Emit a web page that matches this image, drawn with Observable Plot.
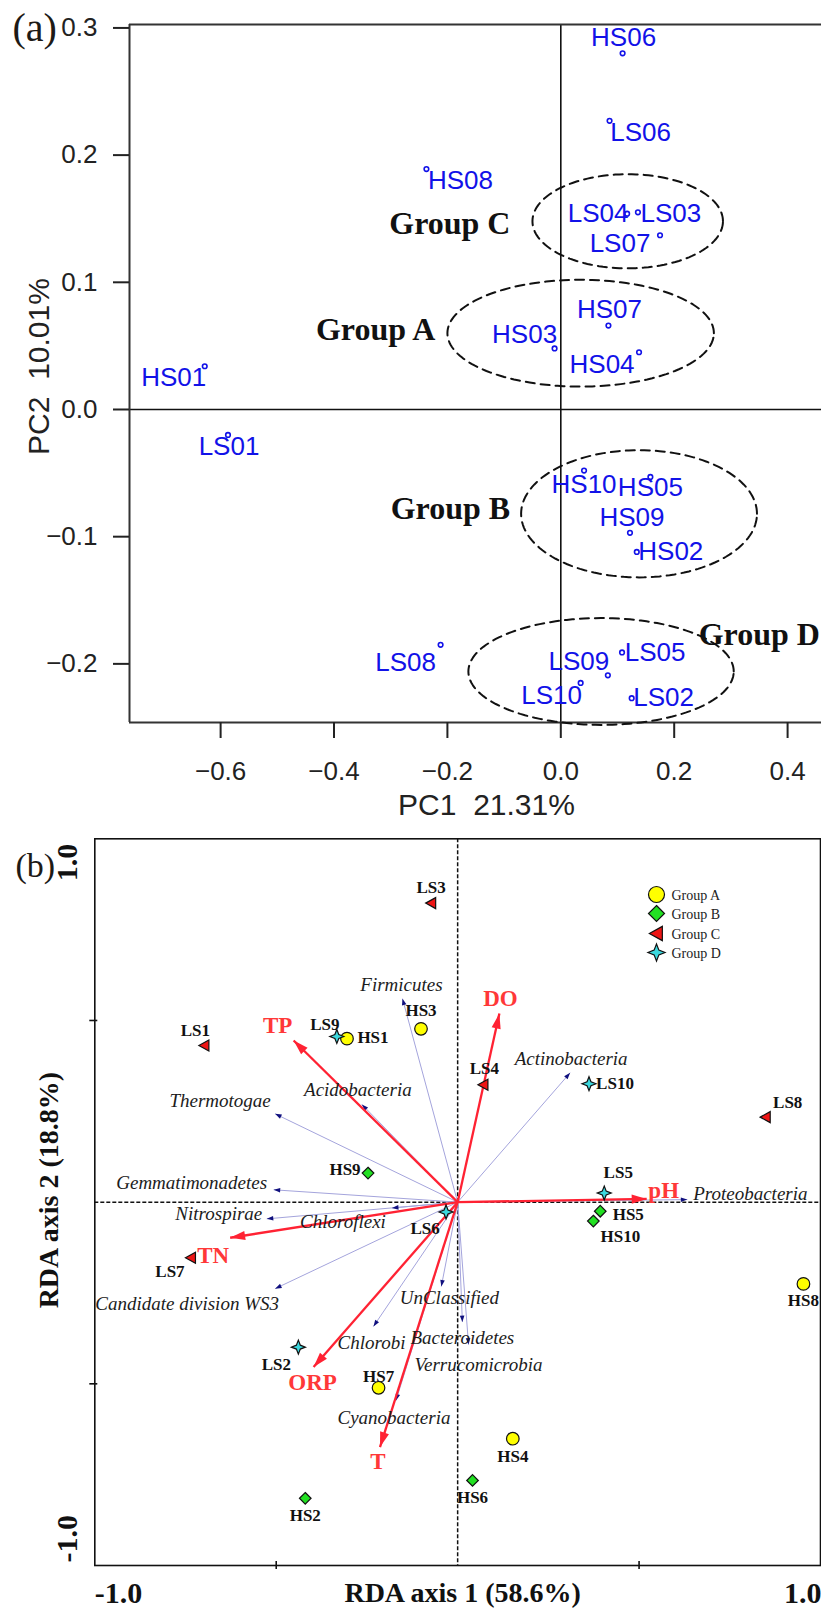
<!DOCTYPE html>
<html><head><meta charset="utf-8">
<script src="https://cdn.jsdelivr.net/npm/d3@7"></script>
<script src="https://cdn.jsdelivr.net/npm/@observablehq/plot@0.6"></script>
<style>
html,body{margin:0;padding:0;background:#fff;}
#wrap{position:relative;width:821px;height:1611px;overflow:hidden;background:#fff;}
#wrap svg{position:absolute;left:0;overflow:visible;}
</style></head><body><div id="wrap"></div>
<script>
// ---------- Panel (a) data : PCA ----------
const samplesA = ["HS01","HS06","LS06","HS08","LS04","LS03","LS07","HS07","HS03","HS04","LS01","LS08","HS10","HS05","HS09","HS02","LS05","LS09","LS10","LS02"];
const pc1 = [-0.628,0.109,0.086,-0.237,0.117,0.136,0.175,0.084,-0.011,0.138,-0.587,-0.212,0.041,0.158,0.122,0.134,0.108,0.083,0.035,0.125];
const pc2 = [0.034,0.280,0.227,0.189,0.154,0.155,0.137,0.066,0.048,0.045,-0.020,-0.185,-0.048,-0.053,-0.097,-0.112,-0.191,-0.209,-0.215,-0.227];
const groupNames = ["Group A","Group B","Group C","Group D"];
const ellCx = [0.035, 0.138, 0.118, 0.071];
const ellCy = [0.060, -0.082, 0.148, -0.206];
const ellRx = [0.235, 0.208, 0.168, 0.234];
const ellRy = [0.042, 0.050, 0.037, 0.042];
const xTicksA = [-0.6,-0.4,-0.2,0,0.2,0.4];
const yTicksA = [-0.2,-0.1,0,0.1,0.2,0.3];
const xTitleA = "PC1\u00a0\u00a021.31%";
const yTitleA = "PC2\u00a0\u00a010.01%";

// ---------- Panel (b) data : RDA ----------
const samplesB = ["HS1","HS2","HS3","HS4","HS5","HS6","HS7","HS8","HS9","HS10","LS1","LS2","LS3","LS4","LS5","LS6","LS7","LS8","LS9","LS10"];
const groupB   = ["Group A","Group B","Group A","Group A","Group B","Group B","Group A","Group A","Group B","Group B","Group C","Group D","Group C","Group C","Group D","Group D","Group C","Group C","Group D","Group D"];
const rda1 = [-0.305,-0.420,-0.101,0.152,0.393,0.041,-0.218,0.953,-0.247,0.374,-0.698,-0.439,-0.073,0.071,0.404,-0.032,-0.735,0.849,-0.333,0.362];
const rda2 = [0.450,-0.815,0.477,-0.651,-0.025,-0.766,-0.511,-0.225,0.080,-0.052,0.431,-0.399,0.823,0.323,0.025,-0.027,-0.153,0.234,0.456,0.326];
const envNames = ["DO","TP","pH","TN","ORP","T"];
const envX = [0.115,-0.452,0.521,-0.627,-0.397,-0.214];
const envY = [0.519,0.445,0.009,-0.098,-0.454,-0.674];
const spNames = ["Firmicutes","Actinobacteria","Acidobacteria","Thermotogae","Gemmatimonadetes","Nitrospirae","Chloroflexi","Candidate division WS3","UnClassified","Chlorobi","Bacteroidetes","Verrucomicrobia","Cyanobacteria","Proteobacteria"];
const spX = [-0.152,0.310,-0.264,-0.503,-0.507,-0.526,-0.181,-0.503,-0.045,-0.232,0.013,0.030,-0.170,0.633];
const spY = [0.560,0.356,0.269,0.243,0.034,-0.046,-0.016,-0.238,-0.232,-0.342,-0.330,-0.392,-0.546,0.007];
const xTitleB = "RDA axis 1 (58.6%)";
const yTitleB = "RDA axis 2 (18.8%)";

// ---------- styles ----------
const sans = "'Liberation Sans', Arial, sans-serif";
const serif = "'Liberation Serif', 'Times New Roman', serif";
const blue = "#1212e8";
const red = "#ff2233";
const wrap = document.getElementById("wrap");

// ---------- Panel (a) ----------
const xA = [-0.7607, 0.4598];
const yA = [-0.2461, 0.3027];
const rowsA = samplesA.map((s,i)=>({name:s, x:pc1[i], y:pc2[i]}));
const offA = {HS01:[-31,11],HS06:[1,-16],LS06:[31,12],HS08:[34,12],LS04:[-29,0],LS03:[33,1],LS07:[-40,8],HS07:[1,-16],HS03:[-30,-14],HS04:[-37,12],LS01:[1,12],LS08:[-35,18],HS10:[0,14],HS05:[0,11],HS09:[2,-15],HS02:[34,0],LS05:[33,0],LS09:[-29,-14],LS10:[-29,13],LS02:[32,-1]};
const ellPts = [];
groupNames.forEach((g,i)=>{
  for (let k=0;k<=144;k++){ const t=2*Math.PI*k/144;
    ellPts.push({g, x: ellCx[i]+ellRx[i]*Math.cos(t), y: ellCy[i]+ellRy[i]*Math.sin(t)}); }
});
const grpLab = {"Group A":[-12,-3,"L"],"Group B":[-11,-5,"L"],"Group C":[-22,2,"L"],"Group D":[-35,-37,"R"]};

const chartA = Plot.plot({
  width: 821, height: 820, marginLeft: 129, marginRight: 0, marginTop: 24, marginBottom: 98,
  x: {domain: xA}, y: {domain: yA},
  style: {fontFamily: sans, fontSize: "26px", background: "transparent", color: "#222"},
  marks: [
    Plot.ruleX([0], {stroke:"#111", strokeWidth:1.6}),
    Plot.ruleY([0], {stroke:"#111", strokeWidth:1.6}),
    Plot.ruleX([xA[0]], {stroke:"#333", strokeWidth:2}),
    Plot.ruleY(yA, {stroke:"#333", strokeWidth:2}),
    Plot.axisY({ticks: yTicksA, tickFormat: d3.format(".1f"), tickSize: 16, tickPadding: 16, fontSize: 26, label: null, color: "#222", strokeWidth: 2}),
    Plot.axisX({ticks: xTicksA, tickFormat: d3.format(".1f"), tickSize: 16, tickPadding: 23, fontSize: 26, label: null, color: "#222", strokeWidth: 2}),
    Plot.line(ellPts, {x:"x", y:"y", z:"g", stroke:"#111", strokeWidth:2, strokeDasharray:"9,6"}),
    ...groupNames.map((g,i)=>{ const o = grpLab[g];
      return Plot.text([g], {x: () => o[2]==="L" ? ellCx[i]-ellRx[i] : ellCx[i]+ellRx[i], y: () => ellCy[i],
        textAnchor: o[2]==="L" ? "end" : "start", dx:o[0], dy:o[1], fontFamily: serif, fontWeight:"bold", fontSize:32, fill:"#111"}); }),
    Plot.dot(rowsA, {x:"x", y:"y", r:2.3, stroke:blue, strokeWidth:1.6, fill:"none"}),
    ...rowsA.map(d => Plot.text([d], {x:"x", y:"y", text:"name", dx:offA[d.name][0], dy:offA[d.name][1], fill:blue, fontSize:26, fontFamily:sans})),
    Plot.text([xTitleA], {frameAnchor:"bottom", textAnchor:"middle", lineAnchor:"middle", dx: 11, dy: 83, fontSize: 30, fontFamily: sans, fill:"#222"}),
    Plot.text([yTitleA], {frameAnchor:"left", textAnchor:"middle", lineAnchor:"middle", rotate:-90, dx: -90, dy: -7, fontSize: 30, fontFamily: sans, fill:"#222"}),
    Plot.text(["(a)"], {frameAnchor:"top-left", textAnchor:"start", lineAnchor:"middle", dx:-117, dy:4, fontSize:40, fontFamily: serif, fill:"#1d1a16"})
  ]
});
chartA.style.top = "0px";
wrap.appendChild(chartA);

// ---------- Panel (b) ----------
const head = (len, hw) => ({draw(ctx){ ctx.moveTo(0,0); ctx.lineTo(-hw,len); ctx.lineTo(hw,len); ctx.closePath(); }});
const circ = (r) => ({draw(ctx){ ctx.moveTo(r,0); ctx.arc(0,0,r,0,2*Math.PI); }});
const diam = (h) => ({draw(ctx){ ctx.moveTo(0,-h); ctx.lineTo(h,0); ctx.lineTo(0,h); ctx.lineTo(-h,0); ctx.closePath(); }});
const ltri = (s) => ({draw(ctx){ ctx.moveTo(-5.5*s,0); ctx.lineTo(4.5*s,-5.5*s); ctx.lineTo(4.5*s,5.5*s); ctx.closePath(); }});
const star = (s) => ({draw(ctx){ const q=s*0.28; ctx.moveTo(0,-s); ctx.lineTo(q,-q); ctx.lineTo(s,0); ctx.lineTo(q,q); ctx.lineTo(0,s); ctx.lineTo(-q,q); ctx.lineTo(-s,0); ctx.lineTo(-q,-q); ctx.closePath(); }});
const gStyle = {
  "Group A": {sym: circ(6.3), legSym: circ(8), fill: "#ffff00"},
  "Group B": {sym: diam(5.8), legSym: diam(8), fill: "#22e022"},
  "Group C": {sym: ltri(1), legSym: ltri(1.3), fill: "#ee1515"},
  "Group D": {sym: star(7), legSym: star(8.5), fill: "#3cd8de"}
};
const rowsB = samplesB.map((s,i)=>({name:s, g:groupB[i], x:rda1[i], y:rda2[i]}));
const envRows = envNames.map((n,i)=>({name:n, x:envX[i], y:envY[i]}));
const spRows = spNames.map((n,i)=>({name:n, x:spX[i], y:spY[i]}));
const ang = d => Math.atan2(d.x, d.y) * 180 / Math.PI;
const offB = {LS3:[0,-16],HS3:[0,-18],LS4:[1,-16],LS10:[26,0],LS8:[22,-15],LS5:[14,-21],HS5:[28,3],HS10:[27,16],LS1:[-9,-15],LS9:[-12,-12],HS1:[26,-1],HS9:[-23,-4],LS7:[-21,14],LS6:[-21,17],LS2:[-22,17],HS7:[0,-11],HS2:[0,17],HS4:[0,18],HS6:[0,17],HS8:[0,17]};
const offEnv = {DO:[1,-15],TP:[-16,-15],pH:[17,-8],TN:[-17,18],ORP:[-1,16],T:[-2,15]};
const offSp = {"Firmicutes":[-1,-14],"Actinobacteria":[1,-14],"Acidobacteria":[-4,-15],"Thermotogae":[-55,-13],"Gemmatimonadetes":[-82,-7],"Nitrospirae":[-48,-5],"Chloroflexi":[-49,14],"Candidate division WS3":[-88,15],"UnClassified":[8,11],"Chlorobi":[-2,16],"Bacteroidetes":[0,16],"Verrucomicrobia":[10,20],"Cyanobacteria":[-2,17],"Proteobacteria":[63,-6]};
const legDy = [55.7, 74.7, 94.7, 113.7];

const chartB = Plot.plot({
  width: 821, height: 791, marginLeft: 94.3, marginRight: 1, marginTop: 18.3, marginBottom: 46,
  x: {domain: [-1, 1]}, y: {domain: [-1, 1]},
  style: {fontFamily: serif, fontSize: "17px", background: "transparent", color: "#111"},
  marks: [
    Plot.ruleX([0], {stroke:"#111", strokeWidth:1.5, strokeDasharray:"4,2"}),
    Plot.ruleY([0], {stroke:"#111", strokeWidth:1.5, strokeDasharray:"4,2"}),
    Plot.frame({stroke:"#111", strokeWidth:1.6}),
    Plot.axisX({ticks:[-0.5,0.5], tickSize:8, dy:-4, tickFormat: () => "", label:null, strokeWidth:1.6, color:"#111"}),
    Plot.axisY({ticks:[-0.5,0.5], tickSize:8, dx:3, tickFormat: () => "", label:null, strokeWidth:1.6, color:"#111"}),
    Plot.link(spRows, {x1: () => 0, y1: () => 0, x2:"x", y2:"y", stroke:"#a4a4dc", strokeWidth:1}),
    Plot.dot(spRows, {x:"x", y:"y", symbol: head(6.5, 2.3), rotate: ang, fill:"#10107e", stroke:"none"}),
    Plot.link(envRows, {x1: () => 0, y1: () => 0, x2:"x", y2:"y", stroke:red, strokeWidth:2.3}),
    Plot.dot(envRows, {x:"x", y:"y", symbol: head(15, 4.6), rotate: ang, fill:red, stroke:"none"}),
    ...groupNames.map(g => Plot.dot(rowsB.filter(d => d.g === g), {x:"x", y:"y", symbol: gStyle[g].sym, fill: gStyle[g].fill, stroke:"#111", strokeWidth:1.2})),
    ...rowsB.map(d => Plot.text([d], {x:"x", y:"y", text:"name", dx:offB[d.name][0], dy:offB[d.name][1], fontWeight:"bold", fontSize:17, fontFamily:serif, fill:"#111"})),
    ...envRows.map(d => Plot.text([d], {x:"x", y:"y", text:"name", dx:offEnv[d.name][0], dy:offEnv[d.name][1], fontWeight:"bold", fontSize:23, fontFamily:serif, fill:"#ff3838"})),
    ...spRows.map(d => Plot.text([d], {x:"x", y:"y", text:"name", dx:offSp[d.name][0], dy:offSp[d.name][1], fontStyle:"italic", fontSize:19, fontFamily:serif, fill:"#1c1c1c"})),
    ...groupNames.map((g,i) => Plot.dot([g], {frameAnchor:"top-left", dx:561.7, dy:legDy[i], symbol: gStyle[g].legSym, fill: gStyle[g].fill, stroke:"#111", strokeWidth:1.2})),
    ...groupNames.map((g,i) => Plot.text([g], {frameAnchor:"top-left", textAnchor:"start", lineAnchor:"middle", dx:576.7, dy:legDy[i]+1, fontSize:14, fontFamily:serif, fill:"#222"})),
    Plot.text(["-1.0"], {frameAnchor:"bottom-left", textAnchor:"start", lineAnchor:"middle", dx:0, dy:28, fontWeight:"bold", fontSize:30, fontFamily:serif, fill:"#111"}),
    Plot.text(["1.0"], {frameAnchor:"bottom-right", textAnchor:"end", lineAnchor:"middle", dx:1, dy:28, fontWeight:"bold", fontSize:30, fontFamily:serif, fill:"#111"}),
    Plot.text([xTitleB], {frameAnchor:"bottom", textAnchor:"middle", lineAnchor:"middle", dx:5, dy:28, fontWeight:"bold", fontSize:28, fontFamily:serif, fill:"#111"}),
    Plot.text(["1.0"], {frameAnchor:"top-left", rotate:-90, textAnchor:"end", lineAnchor:"middle", dx:-27, dy:5, fontWeight:"bold", fontSize:30, fontFamily:serif, fill:"#111"}),
    Plot.text(["-1.0"], {frameAnchor:"bottom-left", rotate:-90, textAnchor:"start", lineAnchor:"middle", dx:-27, dy:-3, fontWeight:"bold", fontSize:30, fontFamily:serif, fill:"#111"}),
    Plot.text([yTitleB], {frameAnchor:"left", rotate:-90, textAnchor:"middle", lineAnchor:"middle", dx:-46, dy:-12, fontWeight:"bold", fontSize:28, fontFamily:serif, fill:"#111"}),
    Plot.text(["(b)"], {frameAnchor:"top-left", textAnchor:"start", lineAnchor:"middle", dx:-79.3, dy:27, fontSize:34, fontFamily:serif, fill:"#1d1a16"})
  ]
});
chartB.style.top = "820px";
wrap.appendChild(chartB);
</script></body></html>
